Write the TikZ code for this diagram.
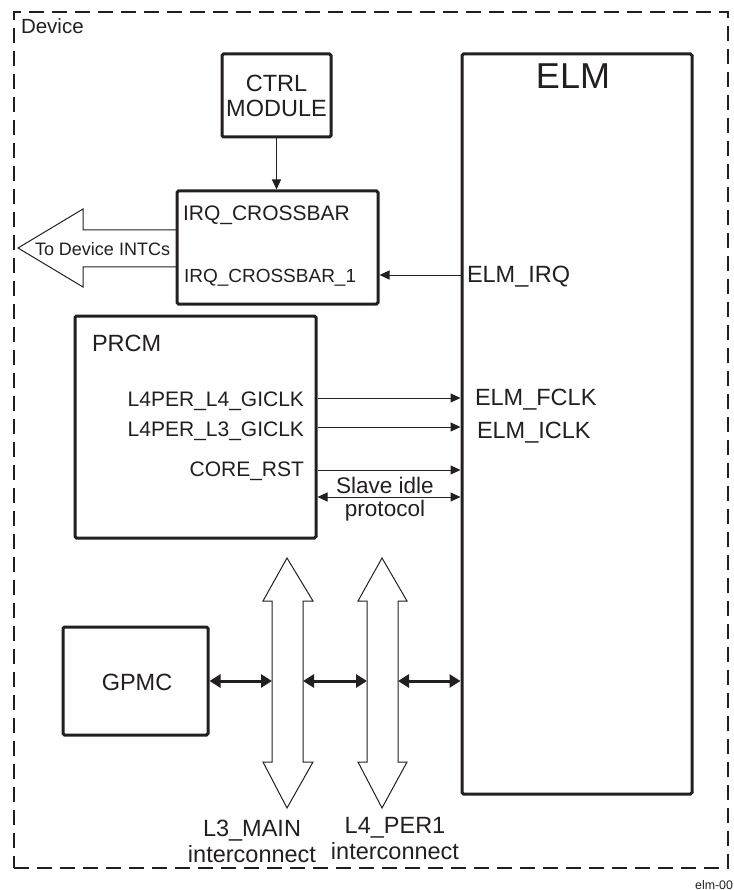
\documentclass[tikz,border=0pt]{standalone}
\usepackage{fontspec}
\setmainfont{Liberation Sans}
\usetikzlibrary{arrows.meta}
\definecolor{ink}{HTML}{231F20}
\begin{document}
\begin{tikzpicture}[x=1pt,y=-1pt,
  every node/.style={text=ink},
  box/.style={draw=ink, line width=3pt, rounded corners=1.5pt, inner sep=0pt, fill=white},
  hollow/.style={draw=ink, line width=1pt, fill=white, line join=miter},
  thinarr/.style={draw=ink, line width=1pt, -{Triangle[length=10pt,width=9pt]}},
  thinarrb/.style={draw=ink, line width=1pt, {Triangle[length=10pt,width=9pt]}-{Triangle[length=10pt,width=9pt]}},
  thickarr/.style={draw=ink, line width=3pt, {Triangle[length=11pt,width=13pt]}-{Triangle[length=11pt,width=13pt]}},
  lbl/.style={inner sep=0pt, outer sep=0pt},
  fM/.style={lbl, font=\fontsize{23.5pt}{28pt}\selectfont},
  fS/.style={lbl, font=\fontsize{21pt}{25pt}\selectfont},
]
\useasboundingbox (0,0) rectangle (733,890);

% device frame
\node[draw=ink, line width=2.5pt, dash pattern=on 15pt off 8pt, minimum width=714pt, minimum height=856pt, inner sep=0pt] (device) at (371,440) {};

% hollow arrows
\draw[hollow] (18,248) -- (83,209) -- (83,230) -- (177,230) -- (177,267) -- (83,267) -- (83,287) -- cycle;
\draw[hollow] (287,558) -- (313,601) -- (303,601) -- (303,762) -- (313,762) -- (287,808) -- (263,762) -- (272,762) -- (272,601) -- (263,601) -- cycle;
\draw[hollow] (382,558) -- (407,601) -- (398,601) -- (398,762) -- (407,762) -- (382,808) -- (358,762) -- (367,762) -- (367,601) -- (358,601) -- cycle;

% boxes
\node[box, minimum width=109pt, minimum height=83pt] (ctrl) at (276.5,95.5) {};
\node[box, minimum width=201pt, minimum height=113pt] (irq) at (277.5,247.5) {};
\node[box, minimum width=230pt, minimum height=740pt] (elm) at (577,424) {};
\node[box, minimum width=241pt, minimum height=222pt] (prcm) at (195.5,427) {};
\node[box, minimum width=145pt, minimum height=108pt] (gpmc) at (135.5,681) {};

% helper coordinates
\coordinate (y275) at (0,275);
\coordinate (y398) at (0,398);
\coordinate (y427) at (0,427);
\coordinate (y470) at (0,470);
\coordinate (y497) at (0,497);
\coordinate (l3w) at (272,681);
\coordinate (l3e) at (303,681);
\coordinate (l4w) at (367,681);
\coordinate (l4e) at (398,681);

% connectors
\draw[thinarr] (ctrl.south) -- (ctrl.south |- irq.north);
\draw[thinarr] (elm.west |- y275) -- (irq.east |- y275);
\draw[thinarr] (prcm.east |- y398) -- (elm.west |- y398);
\draw[thinarr] (prcm.east |- y427) -- (elm.west |- y427);
\draw[thinarr] (prcm.east |- y470) -- (elm.west |- y470);
\draw[thinarrb] (prcm.east |- y497) -- (elm.west |- y497);
\draw[thickarr] (gpmc.east) -- (l3w);
\draw[thickarr] (l3e) -- (l4w);
\draw[thickarr] (l4e) -- (elm.west |- l4e);

% texts
\node[lbl, font=\fontsize{20.5pt}{24pt}\selectfont, anchor=base west] (tdev) at (21,34) {Device};
\node[fM, anchor=base] (tctrl) at (276.5,92) {CTRL};
\node[fM, anchor=base] (tmod) at (276.5,117) {MODULE};
\node[lbl, font=\fontsize{21pt}{25pt}\selectfont, anchor=base west] (tirqa) at (183,220.5) {IRQ\_CROSSBAR};
\node[lbl, font=\fontsize{19pt}{23pt}\selectfont, anchor=base west] (tirqb) at (184,282.5) {IRQ\_CROSSBAR\_1};
\node[lbl, font=\fontsize{18pt}{22pt}\selectfont, anchor=base west] (tintc) at (35,255) {To Device INTCs};
\node[lbl, font=\fontsize{36pt}{42pt}\selectfont, anchor=base] (telm) at (573,89) {ELM};
\node[fM, anchor=base west] (tirq) at (467,283) {ELM\_IRQ};
\node[fM, anchor=base west] (tfclk) at (475,405) {ELM\_FCLK};
\node[fM, anchor=base west] (ticlk) at (477,438) {ELM\_ICLK};
\node[fM, anchor=base west] (tprcm) at (92,351.7) {PRCM};
\node[fS, anchor=base east] (tl4) at (304,406.7) {L4PER\_L4\_GICLK};
\node[fS, anchor=base east] (tl3) at (304,436) {L4PER\_L3\_GICLK};
\node[fS, anchor=base east] (trst) at (304,476.7) {CORE\_RST};
\node[lbl, font=\fontsize{22.5pt}{26pt}\selectfont, anchor=base] (tslave) at (385,493) {Slave idle};
\node[lbl, font=\fontsize{22.5pt}{26pt}\selectfont, anchor=base] (tproto) at (385,516) {protocol};
\node[fM, anchor=base] (tgpmc) at (137,690) {GPMC};
\node[fM, anchor=base] (tl3m) at (252,836.7) {L3\_MAIN};
\node[fM, anchor=base] (tl3i) at (252,862.7) {interconnect};
\node[fM, anchor=base] (tl4p) at (395,833.3) {L4\_PER1};
\node[fM, anchor=base] (tl4i) at (395,859.3) {interconnect};
\node[lbl, font=\fontsize{12.4pt}{15pt}\selectfont, anchor=base east] (tfig) at (733,889) {elm-00};
\end{tikzpicture}
\end{document}
